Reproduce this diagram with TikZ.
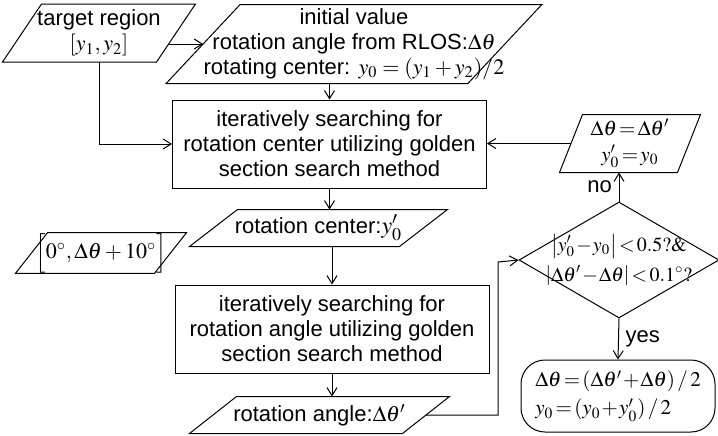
\documentclass[tikz,border=0pt]{standalone}
\usepackage{mathptmx}
\usepackage[no-math]{fontspec}
\setmainfont{Liberation Sans}
\usetikzlibrary{shapes.geometric,arrows.meta}

\begin{document}
\begin{tikzpicture}[x=0.5pt,y=-0.5pt,
    font=\fontsize{11}{12.5}\selectfont, line width=0.5pt,
    >={Straight Barb[length=4pt,width=5pt]},
    io/.style={rectangle, align=center, inner sep=0pt,
      append after command={\pgfextra{\draw
        ([xshift=#1/2]\tikzlastnode.north west) -- ([xshift=#1/2]\tikzlastnode.north east) --
        ([xshift=-#1/2]\tikzlastnode.south east) -- ([xshift=-#1/2]\tikzlastnode.south west) -- cycle;}}},
    proc/.style={draw, rectangle, align=center, inner sep=0pt,
      minimum width=157pt, minimum height=44pt},
    tight/.style={font=\fontsize{10.5}{12}\selectfont,
      execute at begin node={\medmuskip=1mu\relax\thickmuskip=2mu\relax}}]
    \useasboundingbox (0,0) rectangle (718,435);
    % inputs and search boxes
    \node[io=19.5pt, minimum width=76.5pt, minimum height=28.5pt] (tgt) at (99,33)
        {target region\\$[y_1,y_2]$};
    \node[io=37pt, minimum width=149pt, minimum height=39pt] (init) at (354,44)
        {initial value\\rotation angle from RLOS:$\Delta\theta$\\rotating center: $y_0=(y_1+y_2)/2$};
    \node[proc] (box1) at (329.5,144)
        {iteratively searching for\\rotation center utilizing golden\\section search method};
    \node[io=24pt, minimum width=104.5pt, minimum height=18pt] (rc) at (318.5,228)
        {rotation center:{\large$y'_0$}};
    \node[io=16pt, minimum width=69pt, minimum height=18pt] (rng) at (101,253)
        {$\Bigl[0^\circ,\Delta\theta+10^\circ\Bigr]$};
    \node[proc] (box2) at (332,329)
        {iteratively searching for\\rotation angle utilizing golden\\section search method};
    \node[io=23.5pt, minimum width=106pt, minimum height=18pt] (ra) at (319.5,415)
        {rotation angle:$\Delta\theta'$};
    % convergence test
    \node[diamond, draw, aspect=1.7, inner sep=-4pt, align=center, tight,
        font=\fontsize{10}{12}\selectfont,
        minimum width=100pt, minimum height=58pt] (dec) at (619,260)
        {$\left|y'_0-y_0\right|<0.5?\&$\\[3pt]$\left|\Delta\theta'-\Delta\theta\right|<0.1^\circ?$};
    \node[io=11.5pt, minimum width=58.5pt, minimum height=28.5pt, tight] (upd) at (630,143.5)
        {$\Delta\theta=\Delta\theta'$\\[1pt]$y'_0=y_0$};
    \node[draw, rounded corners=12pt, align=left, inner sep=0pt, tight,
        minimum width=97pt, minimum height=36pt] (res) at (618,396)
        {$\Delta\theta=(\Delta\theta'+\Delta\theta)\,/\,2$\\[2pt]$y_0=(y_0+y'_0)\,/\,2$};
    \coordinate (bend) at (498,262);

    \draw[->] ([xshift=-4pt]tgt.east |- init.west) -- (init.west);
    \draw[->] (tgt.south) |- (box1.west);
    \draw[->] (init.south -| box1.north) -- (box1.north);
    \draw[->] (box1.south) -- (box1.south |- rc.north);
    \draw[->] (rc.south -| box2.north) -- (box2.north);
    \draw[->] (box2.south) -- (box2.south |- ra.north);
    \draw[->] (ra.east) -| (bend) -- (dec.west);
    \draw[->] (dec.north) -- (dec.north |- upd.south) node[midway,left]{no};
    \draw[->] (upd.west) -- (upd.west -| box1.east);
    \draw[->] (dec.south) -- (res.north) node[midway,right]{yes};
\end{tikzpicture}
\end{document}
